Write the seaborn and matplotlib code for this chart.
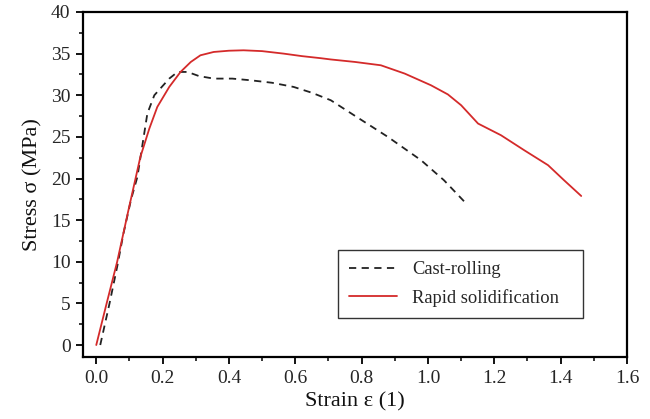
import numpy as np
import pandas as pd
import matplotlib
matplotlib.use("Agg")
import matplotlib.pyplot as plt
import seaborn as sns
from matplotlib.ticker import MultipleLocator
from matplotlib.lines import Line2D

cast_strain = [0.012, 0.04, 0.063, 0.082, 0.105, 0.124, 0.154, 0.175, 0.193, 0.22, 0.245, 0.275,
               0.31, 0.354, 0.41, 0.465, 0.53, 0.595, 0.65, 0.707, 0.777, 0.879, 0.979, 1.048, 1.115]
cast_stress = [0.0, 5.0, 9.4, 13.4, 17.5, 20.2, 27.8, 30.0, 30.8, 32.0, 32.8, 32.8,
               32.3, 32.0, 32.0, 31.8, 31.5, 31.0, 30.3, 29.4, 27.6, 25.0, 22.2, 19.8, 17.0]

rapid_strain = [0.0, 0.03, 0.063, 0.097, 0.133, 0.16, 0.184, 0.22, 0.254, 0.285, 0.314, 0.354,
                0.4, 0.444, 0.5, 0.565, 0.62, 0.677, 0.707, 0.78, 0.858, 0.93, 1.009, 1.06,
                1.10, 1.151, 1.22, 1.29, 1.362, 1.41, 1.462]
rapid_stress = [0.0, 4.8, 10.0, 16.2, 22.6, 26.0, 28.6, 31.0, 32.8, 34.0, 34.8, 35.2,
                35.35, 35.4, 35.3, 35.0, 34.7, 34.45, 34.3, 34.0, 33.6, 32.6, 31.2, 30.1,
                28.8, 26.6, 25.2, 23.4, 21.6, 19.8, 17.9]

labels = ["Cast-rolling", "Rapid solidification"]

df = pd.concat([
    pd.DataFrame({"strain": cast_strain, "stress": cast_stress, "series": labels[0]}),
    pd.DataFrame({"strain": rapid_strain, "stress": rapid_stress, "series": labels[1]}),
], ignore_index=True)

sns.set_theme(style="white")
plt.rcParams['font.family'] = ['Liberation Serif', 'DejaVu Serif']

fig = plt.figure(figsize=(6.5, 4.19), dpi=100)
ax = fig.add_axes([83/650, 1 - 357/419, (627-83)/650, (357-12)/419])

sns.lineplot(data=df, x="strain", y="stress", hue="series", style="series",
             palette={labels[0]: "#222222", labels[1]: "#d42a2a"},
             dashes={labels[0]: (4, 3), labels[1]: ""},
             sort=False, estimator=None, linewidth=1.3, ax=ax, legend=False)

ax.set_xlim(-0.04, 1.6)
ax.set_ylim(-1.44, 40)
ax.xaxis.set_major_locator(MultipleLocator(0.2))
ax.xaxis.set_minor_locator(MultipleLocator(0.1))
ax.yaxis.set_major_locator(MultipleLocator(5))
ax.yaxis.set_minor_locator(MultipleLocator(2.5))
ax.xaxis.set_major_formatter(matplotlib.ticker.FuncFormatter(lambda v, p: f"{v:.1f}"))
ax.tick_params(which="major", direction="out", length=5, width=1.3, color="black",
               labelsize=14, bottom=True, left=True, top=False, right=False, pad=4)
ax.tick_params(which="minor", direction="out", length=3, width=1.1, color="black",
               bottom=True, left=True, top=False, right=False)
for s in ax.spines.values():
    s.set_color("black")
    s.set_linewidth(1.6)

ax.set_xlabel("Strain ε (1)", fontsize=16, color="#111111", labelpad=4)
ax.set_ylabel("Stress σ (MPa)", fontsize=16, color="#111111", labelpad=6)

handles = [Line2D([], [], color="#222222", lw=1.3, dashes=(4, 3)),
           Line2D([], [], color="#d42a2a", lw=1.3)]
leg = ax.legend(handles, labels, loc="lower left", bbox_to_anchor=(0.469, 0.113, 0.45, 0.183),
                mode="expand", frameon=True, fancybox=False, fontsize=13.3, handlelength=2.6,
                handletextpad=0.8, borderpad=0.6, labelspacing=0.6, borderaxespad=0)
leg.get_frame().set_edgecolor("black")
leg.get_frame().set_linewidth(1.0)
for line in leg.get_lines():
    line.set_linewidth(1.3)

fig.savefig("out.png", dpi=100)
